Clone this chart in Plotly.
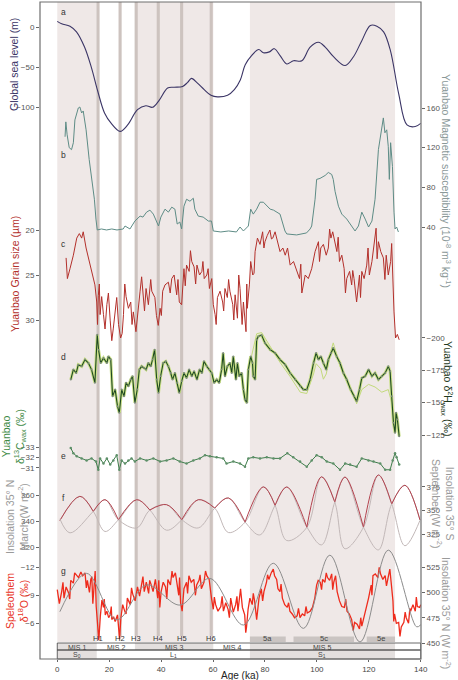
import plotly.graph_objects as go

# ---------------- data ----------------
# a) global sea level (m)
sl_age = [0, 1.7, 4.9, 7.4, 10.5, 13.1, 15.6, 18.2, 20.8, 24.2, 27.1, 30.9, 34.1, 36.7, 39.3,
          42.5, 45.0, 48.3, 50.2, 51.7, 54.0, 56.6, 59.2, 61.7, 65.6, 68.2, 70.5, 72.4, 75.0,
          77.6, 79.4, 81.7, 83.6, 85.9, 88.4, 91.0, 94.2, 97.4, 100.6, 103.2, 106.4, 110.9,
          114.1, 117.3, 120.6, 123.1, 125.7, 128.3, 131.5, 134.7, 137.9, 140.0]
sl_m = [7, 4, 1, -6, -25, -50, -80, -107, -120, -130, -122, -103, -98, -100, -91,
        -76, -75, -74, -69, -64, -70, -78, -85, -87, -85, -78, -66, -47, -35,
        -28, -32, -31, -27, -36, -46, -42, -42, -25, -19, -25, -37, -48,
        -37, -17, 2, 1, -6, -29, -83, -122, -124, -120]

# b) Yuanbao magnetic susceptibility (10^-8 m3 kg-1)
ms_age = [3.0, 3.3, 3.8, 4.6, 5.5, 6.2, 6.8, 8.1, 8.7, 9.4, 10.0, 11.1, 12.3, 13.2, 14.3,
          14.9, 15.4, 17.0, 19.0, 21.0, 23.0, 25.4, 26.1, 28.0, 29.9, 31.9, 33.0, 34.4, 35.7,
          37.0, 38.3, 39.0, 39.9, 41.5, 42.8, 44.1, 45.3, 46.2, 47.2, 47.9, 48.8, 49.8, 51.1,
          52.4, 53.0, 54.3, 56.2, 58.2, 59.4, 60.1, 63.0, 66.0, 69.0, 70.4, 71.7, 73.6, 74.5,
          75.5, 76.8, 78.1, 79.4, 80.7, 82.0, 83.3, 84.5, 85.8, 87.7, 88.4, 92.2, 96.0, 97.4,
          98.0, 99.3, 99.9, 101.2, 103.2, 104.4, 105.7, 106.3, 107.0, 108.3, 109.6, 111.5,
          113.4, 114.7, 116.0, 117.3, 118.6, 119.9, 121.2, 122.4, 123.7, 125.0, 125.6, 126.2,
          126.9, 127.5, 127.9, 128.4, 129.1, 129.7, 130.1, 130.7, 131.4]
ms_val = [131, 146, 133, 120, 118, 125, 148, 160, 161, 155, 157, 138, 108, 88, 68,
          48, 37, 38, 37, 38, 37, 38, 41, 38, 46, 51, 50, 55, 57,
          53, 46, 41, 50, 58, 55, 60, 58, 43, 45, 38, 61, 68, 66,
          69, 58, 51, 50, 46, 46, 36, 35, 36, 35, 40, 36, 41, 58,
          53, 58, 65, 65, 61, 58, 57, 55, 53, 36, 33, 32, 34, 38,
          41, 68, 88, 89, 92, 95, 93, 88, 76, 61, 53, 48,
          41, 36, 41, 55, 48, 40, 46, 68, 118, 141, 150, 135,
          138, 121, 88, 125, 101, 55, 38, 40, 35]

# c) Yuanbao grain size (um)
gs_age = [3.4, 3.9, 4.9, 6.2, 7.5, 8.5, 9.4, 10.0, 11.1, 12.0,
          13.2, 14.5, 15.2, 15.8, 16.5, 17.1, 17.8, 19.1, 20.4, 21.6,
          22.3, 23.6, 24.4, 25.5, 26.5, 27.4, 28.3, 29.3, 30.3, 31.2,
          31.9, 33.1, 34.2, 35.1, 36.4, 37.6, 38.9, 39.6, 40.6, 41.5,
          42.8, 44.1, 45.0, 46.0, 47.0, 47.9, 48.8, 49.8, 50.8, 51.8,
          52.7, 53.8, 54.8, 55.7, 56.6, 57.6, 58.6, 59.5, 60.1, 60.8,
          61.7, 62.7, 63.7, 64.6, 65.5, 66.5, 67.6, 68.5, 69.4, 70.4,
          71.7, 72.7, 73.2, 74.0, 74.5, 75.3, 76.2, 77.1, 78.1, 79.1,
          80.0, 80.9, 81.9, 83.0, 83.9, 84.8, 85.8, 86.9, 87.8, 88.7,
          89.7, 91.0, 92.3, 93.3, 94.2, 95.5, 96.7, 98.0, 99.3, 100.6,
          101.5, 102.5, 103.6, 104.4, 105.4, 106.1, 107.0, 107.7, 108.7, 109.6,
          110.5, 111.5, 112.6, 113.4, 114.3, 115.3, 116.4, 117.3, 118.2, 119.2,
          120.2, 121.2, 122.1, 122.8, 123.7, 124.6, 125.6, 126.7, 127.5, 128.4,
          129.2, 129.7, 130.3, 131.0, 131.7]
gs_um = [23.1, 25.4, 24.3, 22.8, 20.9, 20.4, 20.9, 20.2, 22.0, 23.1,
         24.6, 26.1, 28.0, 27.3, 29.4, 27.4, 29.4, 28.3, 30.1, 30.9,
         29.4, 30.5, 32.0, 29.4, 27.4, 28.7, 28.0, 29.1, 31.3, 28.3,
         26.8, 27.2, 26.5, 28.3, 26.8, 27.5, 30.6, 28.7, 26.8, 26.1,
         25.8, 25.4, 25.0, 27.2, 28.0, 28.3, 24.3, 23.9, 24.6, 23.5,
         24.1, 23.9, 25.0, 24.6, 25.4, 25.0, 26.5, 25.4, 28.3, 29.4,
         27.5, 26.8, 28.0, 26.5, 27.5, 26.8, 28.3, 27.2, 29.8, 26.5,
         28.0, 31.3, 28.7, 26.1, 23.5, 25.0, 22.4, 20.9, 21.6, 20.2,
         21.3, 20.6, 20.0, 20.9, 20.2, 21.3, 22.4, 22.0, 22.8, 22.0,
         23.9, 23.5, 24.6, 25.4, 27.0, 25.0, 25.4, 24.3, 22.4, 21.3,
         22.0, 21.6, 22.8, 22.0, 20.9, 20.2, 21.3, 22.4, 23.5, 22.8,
         24.3, 25.4, 24.6, 26.1, 25.4, 28.0, 25.0, 24.6, 25.4, 23.9,
         25.0, 23.5, 21.3, 19.8, 21.3, 22.4, 23.1, 22.8, 25.0, 23.5,
         25.7, 29.1, 32.0, 31.6, 32.2]
# extra short-lived spikes seen in the grain-size record
gs_spike_age = [15.5, 16.2, 18.4, 19.7, 21.0, 22.9, 25.0, 26.0, 28.8, 32.5,
                33.6, 36.0, 38.2, 40.1, 43.5, 46.5, 49.3, 51.3, 53.3, 56.1,
                58.1, 61.2, 64.1, 66.0, 68.0, 69.9, 71.2, 73.0, 75.8, 79.6,
                82.5, 93.8, 101.0, 104.9, 108.2, 111.0, 113.8, 116.8, 119.7, 123.2,
                126.2, 128.8]
gs_spike_um = [30.5, 26.0, 31.0, 27.0, 32.3, 27.5, 31.5, 26.0, 30.5, 25.2,
               29.0, 25.5, 29.5, 29.5, 27.0, 25.5, 26.2, 22.3, 26.0, 23.5,
               24.3, 30.5, 29.0, 25.5, 30.0, 25.0, 30.5, 26.0, 24.8, 22.0,
               21.0, 23.8, 23.5, 19.9, 20.8, 27.0, 24.5, 27.5, 22.0, 23.2,
               25.5, 21.5]

# d) Yuanbao dD wax (permil)
dh_age = [5.2, 6.2, 7.3, 8.1, 9.4, 10.7, 12.0, 13.2, 14.5, 15.4,
          15.9, 16.7, 17.8, 19.1, 19.7, 20.6, 21.3, 22.3, 23.2, 23.9,
          24.8, 25.7, 26.5, 27.4, 28.3, 29.0, 29.9, 30.8, 31.6, 32.5,
          33.4, 34.2, 35.1, 36.0, 36.7, 37.5, 38.3, 39.0, 39.8, 40.8,
          41.8, 42.8, 43.7, 44.4, 45.3, 46.2, 47.0, 47.9, 48.8, 49.8,
          50.8, 51.8, 52.7, 53.8, 54.8, 55.7, 56.5, 57.6, 58.6, 59.5,
          60.4, 61.4, 62.4, 63.3, 63.9, 64.6, 65.5, 66.5, 67.2, 67.8,
          68.8, 69.4, 70.1, 71.0, 71.7, 72.3, 73.0, 73.6, 74.5, 75.2,
          75.5, 76.2, 76.8, 77.4, 78.7, 80.0, 82.0, 83.9, 85.8, 87.8,
          89.7, 91.6, 93.6, 94.8, 96.1, 97.4, 98.7, 99.7, 100.6, 101.5,
          102.5, 103.6, 104.4, 105.4, 106.3, 107.6, 108.9, 110.2, 111.5, 113.0,
          114.3, 115.3, 116.4, 117.3, 118.6, 119.9, 121.2, 122.4, 123.7, 125.0,
          126.3, 127.5, 128.2, 128.8, 129.5, 130.1, 130.5, 131.0, 131.7]
dh_val = [-167.7, -175.4, -172.8, -179.2, -177.9, -183.1, -180.5, -175.4, -165.2, -202.3,
          -190.8, -180.5, -184.4, -180.5, -185.6, -183.1, -154.9, -160.0, -147.2, -142.1,
          -160.0, -154.9, -165.2, -162.6, -167.7, -170.3, -149.8, -160.0, -175.4, -177.9,
          -176.7, -175.4, -180.5, -177.9, -183.1, -190.8, -167.7, -157.5, -170.3, -180.5,
          -181.8, -177.9, -172.8, -167.7, -172.8, -165.2, -157.5, -166.4, -172.8, -169.0,
          -175.4, -170.3, -174.1, -167.7, -175.4, -172.8, -181.8, -177.9, -175.4, -172.8,
          -165.2, -167.7, -165.2, -175.4, -188.2, -170.3, -177.9, -180.5, -172.8, -185.6,
          -167.7, -180.5, -170.3, -172.8, -160.0, -152.3, -149.8, -175.4, -185.6, -180.5,
          -170.3, -167.7, -198.5, -201.0, -202.0, -195.9, -190.8, -188.2, -183.1, -179.2,
          -172.8, -167.7, -162.6, -160.0, -160.0, -167.7, -180.5, -188.2, -183.1, -185.6,
          -180.5, -175.4, -183.1, -188.2, -192.1, -185.6, -180.5, -172.8, -167.7, -160.0,
          -154.9, -151.0, -160.0, -169.0, -170.3, -175.4, -170.3, -172.8, -167.7, -170.3,
          -172.8, -177.9, -174.1, -154.9, -134.4, -126.7, -142.1, -137.0, -124.0]
# lighter companion dD curve (diverges mainly in MIS 5)
dh2_age = [74.5, 76.8, 78.7, 82.0, 85.8, 89.7, 93.6, 96.1, 98.7, 99.7,
           101.5, 102.5, 103.6, 105.4, 106.3, 108.9, 111.5, 114.3, 115.3, 117.3,
           119.9, 122.4, 125.0, 127.5, 128.8, 130.1]
dh2_val = [-183, -203, -204, -193, -181, -170, -158, -157, -172, -180,
           -176, -168, -172, -190, -196, -178, -166, -156, -149, -160,
           -164, -162, -158, -160, -150, -126]

# e) Yuanbao d13C wax (permil)
dc_age = [5.2, 6.2, 7.5, 9.4, 11.3, 13.2, 14.9, 15.8, 16.5, 17.8,
          19.1, 20.4, 21.6, 22.9, 23.9, 24.8, 26.1, 27.4, 28.6, 29.9,
          31.9, 34.4, 37.0, 39.6, 42.1, 44.7, 47.2, 49.8, 52.4, 54.9,
          56.9, 58.8, 61.4, 63.9, 65.2, 67.8, 70.4, 72.3, 73.6, 75.5,
          78.1, 80.7, 83.3, 85.8, 88.6, 90.9, 93.5, 96.1, 98.0, 99.9,
          101.9, 103.8, 106.3, 108.9, 110.9, 112.8, 115.3, 117.3, 119.9, 121.8,
          124.4, 126.3, 128.2, 129.2, 130.1, 130.7, 131.7]
dc_val = [-32.9, -32.4, -32.1, -31.9, -31.7, -31.9, -31.6, -30.8, -31.9, -31.4,
          -31.9, -31.3, -31.7, -32.2, -30.8, -31.7, -31.4, -31.7, -31.9, -31.6,
          -31.9, -31.7, -31.9, -31.6, -31.7, -31.9, -31.6, -31.4, -31.7, -31.9,
          -32.2, -32.1, -32.0, -31.9, -31.4, -31.6, -31.4, -31.1, -31.9, -32.0,
          -31.9, -32.0, -31.9, -31.9, -32.4, -32.0, -31.6, -31.1, -31.7, -32.2,
          -32.0, -31.6, -31.4, -30.8, -31.4, -31.3, -31.1, -31.9, -31.7, -31.6,
          -31.4, -30.8, -30.8, -31.7, -32.4, -32.0, -31.3]

# f) insolation 35N March / 35S September (W m-2)
mar_age = [1.0, 8.7, 13.9, 18.4, 23.5, 30.6, 35.7, 42.1, 47.9, 54.3, 60.7, 65.9, 72.3,
           79.4, 83.9, 88.4, 96.1, 101.8, 106.9, 110.8, 117.9, 123.7, 128.8, 133.9, 139.7]
mar_val = [340.5, 359.2, 347.5, 332.0, 340.9, 356.6, 348.5, 333.0, 340.9, 356.6, 350.0, 331.2, 339.1,
           366.5, 352.2, 325.0, 335.1, 374.3, 354.7, 318.7, 335.1, 375.7, 353.4, 321.0, 340.6]
sep_age = [1.0, 4.9, 13.9, 18.4, 23.5, 30.6, 35.7, 42.1, 47.9, 54.3, 60.7, 65.9, 72.3,
           78.0, 83.9, 88.4, 96.1, 101.8, 106.9, 110.8, 117.9, 123.7, 128.8, 133.9, 139.7]
sep_val = [341.0, 326.2, 349.0, 361.3, 340.2, 331.4, 350.4, 356.0, 340.2, 331.4, 352.5, 363.1, 337.8,
           324.0, 355.4, 374.7, 332.5, 313.5, 358.9, 385.2, 332.5, 308.2, 356.7, 376.5, 339.9]

# g) speleothem d18O (permil) and 35N insolation (W m-2)
sp_age = [0.0, 0.8, 1.7, 2.6, 3.4, 4.3, 5.2, 6.2, 7.3, 8.2,
          9.1, 9.8, 10.7, 11.6, 12.4, 12.9, 13.7, 14.2, 15.0, 15.5,
          16.0, 16.6, 17.2, 17.8, 18.5, 19.1, 19.8, 20.4, 21.0, 21.7,
          22.3, 23.2, 24.0, 24.5, 25.2, 26.1, 27.0, 28.1, 29.1, 30.0,
          30.9, 31.7, 32.6, 33.5, 34.3, 35.2, 36.1, 36.9, 37.8, 38.7,
          39.5, 40.0, 40.8, 41.7, 42.6, 43.6, 44.6, 45.5, 46.2, 46.8,
          47.5, 48.1, 48.8, 49.8, 50.7, 51.6, 52.6, 53.7, 54.6, 55.5,
          56.5, 57.6, 58.5, 59.4, 60.1, 61.0, 61.9, 63.0, 64.0, 64.9,
          65.8, 66.8, 67.8, 68.7, 69.6, 70.6, 71.3, 72.2, 72.9, 73.5,
          74.2, 75.1, 76.0, 76.8, 77.7, 78.6, 79.6, 80.6, 81.5, 82.4,
          83.2, 83.7, 84.5, 85.0, 85.8, 86.7, 87.6, 88.6, 89.6, 90.5,
          91.4, 92.4, 93.5, 94.4, 95.3, 96.3, 97.4, 98.3, 99.2, 99.9,
          100.5, 101.3, 102.2, 103.1, 104.1, 104.9, 105.7, 106.5, 107.2, 107.8,
          108.7, 109.6, 110.6, 111.6, 112.5, 113.4, 114.5, 115.5, 116.4, 117.3,
          118.1, 119.0, 119.9, 120.9, 121.6, 122.5, 123.5, 124.5, 125.4, 126.3,
          127.3, 128.1, 128.6, 129.3, 129.9, 130.6, 131.5, 132.5, 133.5, 134.4,
          135.3, 136.1, 137.0, 137.9, 138.7, 139.6, 140.0]
sp_val = [-9.6, -8.1, -9.4, -8.7, -9.9, -9.3, -10.6, -10.3, -11.2, -10.9,
          -11.5, -11.1, -11.4, -10.6, -9.3, -10.7, -8.1, -9.9, -7.8, -5.6,
          -4.2, -6.8, -8.5, -7.7, -6.9, -7.3, -6.6, -6.9, -6.4, -6.7,
          -6.2, -6.9, -4.3, -6.6, -8.0, -7.2, -8.7, -8.0, -9.1, -8.4,
          -9.9, -8.9, -10.1, -9.4, -10.4, -9.2, -10.2, -9.4, -10.7, -8.7,
          -7.7, -9.4, -10.4, -9.9, -10.7, -10.1, -10.9, -11.4, -10.1, -9.0,
          -8.2, -7.3, -9.7, -10.4, -11.1, -10.4, -10.7, -10.1, -10.6, -9.7,
          -10.4, -11.1, -10.7, -8.7, -7.5, -8.0, -7.3, -7.8, -7.3, -8.2,
          -7.5, -8.7, -7.2, -8.0, -7.3, -9.7, -7.7, -6.9, -5.6, -7.5,
          -8.7, -8.0, -8.4, -6.4, -8.7, -9.7, -9.4, -10.4, -10.7, -11.4,
          -11.8, -11.1, -10.7, -9.7, -9.4, -8.7, -8.0, -7.7, -7.3, -7.0,
          -6.6, -6.8, -6.6, -7.0, -6.8, -7.1, -7.3, -7.7, -8.7, -10.1,
          -10.6, -10.4, -10.7, -10.4, -10.9, -10.6, -11.3, -10.4, -11.1, -9.4,
          -8.4, -7.8, -7.7, -7.3, -7.0, -6.4, -6.1, -5.9, -5.4, -5.7,
          -6.6, -7.7, -8.7, -10.1, -11.1, -11.3, -10.9, -11.3, -10.7, -11.1,
          -10.7, -11.8, -10.4, -8.4, -7.0, -6.0, -6.1, -5.6, -6.1, -6.6,
          -6.0, -7.3, -8.0, -7.3, -7.8, -7.7, -8.0]
# extra short-lived spikes seen in the speleothem record
sp_spike_age = [2.2, 4.8, 6.7, 11.2, 13.3, 14.6, 18.1, 20.8, 26.5, 28.6,
                33.0, 35.6, 39.1, 42.2, 44.2, 47.1, 50.2, 53.2, 55.0, 57.1,
                60.5, 63.5, 66.3, 69.2, 72.6, 75.5, 79.1, 81.0, 86.2, 89.1,
                92.9, 95.8, 101.8, 103.6, 106.1, 111.1, 114.0, 116.9, 121.2, 124.0,
                126.8, 129.6, 132.0, 134.0, 135.8, 138.3]
sp_spike_val = [-10.4, -8.6, -11.4, -9.8, -11.0, -11.6, -8.6, -7.8, -7.0, -9.8,
                -11.0, -10.6, -10.6, -8.6, -11.6, -10.9, -9.2, -9.0, -11.2, -11.6,
                -8.8, -8.9, -6.6, -8.9, -5.0, -9.2, -8.4, -11.2, -10.2, -8.2,
                -7.6, -7.8, -9.6, -11.4, -9.6, -8.6, -5.2, -6.6, -9.0, -12.0,
                -10.0, -6.2, -4.6, -7.2, -7.6, -8.8]
insn_age = [1.0, 11.3, 22.9, 34.4, 47.3, 58.8, 71.7, 83.2, 94.8, 105.0, 116.6, 127.5, 138.4, 140.0]
insn_val = [481, 519, 473, 507.5, 487.6, 514, 467.8, 529, 464.5, 537, 451, 542, 466, 468]

# shading, events and stage boxes
warm_bands = [(0, 15.2), (29.9, 60.1), (74.2, 130.1)]
heinrich_age = [15.7, 24.2, 30.4, 38.9, 47.9, 59.3]
heinrich_lab = ['H1', 'H2', 'H3', 'H4', 'H5', 'H6']
sub_lab = ['5a', '5c', '5e']
sub_start = [74.2, 91.0, 119.2]
sub_end = [88.0, 114.3, 130.1]
mis_lab = ['MIS 1', 'MIS 2', 'MIS 3', 'MIS 4', 'MIS 5']
mis_bounds = [0, 15.2, 29.9, 60.1, 74.2, 130.1]
soil_lab = ['S<sub>0</sub>', 'L<sub>1</sub>', 'S<sub>1</sub>']
soil_bounds = [0, 15.2, 74.2, 130.1]

# merge the spike readings into the main records (kept in age order)
gs_all = sorted(zip(gs_age + gs_spike_age, gs_um + gs_spike_um))
sp_all = sorted(zip(sp_age + sp_spike_age, sp_val + sp_spike_val))

# ---------------- layout helpers (pixel geometry) ----------------
W, H = 458, 680
L, R, T, B = 40, 37, 2, 21
PT, PB = T, H - B   # plot top / bottom in px
FONT = 'Arial, Liberation Sans, sans-serif'


def fx(px):
    return (px - L) / (W - L - R)


def fy(py):
    return (PB - py) / (PB - PT)


def axis_range(v1, p1, v2, p2):
    s = (p2 - p1) / (v2 - v1)
    return [v1 + (PB - p1) / s, v1 + (PT - p1) / s]


def yax(cal, side, ticks, overlay=True):
    d = dict(range=axis_range(*cal), side=side, tickvals=ticks, anchor='x',
             showgrid=False, zeroline=False, showline=False, ticks='outside',
             ticklen=3, tickwidth=0.8, tickcolor='#666', automargin=False,
             tickfont=dict(size=8, color='#555', family=FONT), domain=[0, 1])
    if overlay:
        d['overlaying'] = 'y'
    return d


fig = go.Figure()

fig.add_trace(go.Scatter(x=sl_age, y=sl_m, yaxis='y', mode='lines',
                         line=dict(color='#3b3566', width=1.1, shape='spline')))
fig.add_trace(go.Scatter(x=ms_age, y=ms_val, yaxis='y2', mode='lines',
                         line=dict(color='#5e8c86', width=1)))
fig.add_trace(go.Scatter(x=[a for a, _ in gs_all], y=[v for _, v in gs_all], yaxis='y3',
                         mode='lines', line=dict(color='#b3302b', width=1)))
fig.add_trace(go.Scatter(x=dh_age, y=dh_val, yaxis='y4', mode='lines',
                         line=dict(color='#c9df86', width=3)))
fig.add_trace(go.Scatter(x=dh2_age, y=dh2_val, yaxis='y4', mode='lines',
                         line=dict(color='#c3da7c', width=1)))
fig.add_trace(go.Scatter(x=dh_age, y=dh_val, yaxis='y4', mode='lines+markers',
                         line=dict(color='#1f4a22', width=1.1),
                         marker=dict(size=2, color='#7d8c7d')))
fig.add_trace(go.Scatter(x=dc_age, y=dc_val, yaxis='y5', mode='lines+markers',
                         line=dict(color='#3e7d4b', width=1),
                         marker=dict(size=2.5, color='#5d8f68')))
fig.add_trace(go.Scatter(x=mar_age, y=mar_val, yaxis='y6', mode='lines',
                         line=dict(color='#c2b8b8', width=1, shape='spline')))
fig.add_trace(go.Scatter(x=sep_age, y=sep_val, yaxis='y7', mode='lines',
                         line=dict(color='#c2b8b8', width=1, shape='spline')))
# red highlight on the upper arcs
fig.add_trace(go.Scatter(x=mar_age, y=[v if v >= 334 else None for v in mar_val], yaxis='y6',
                         mode='lines', connectgaps=False,
                         line=dict(color='#b3424e', width=1, shape='spline')))
fig.add_trace(go.Scatter(x=sep_age, y=[v if v >= 332 else None for v in sep_val], yaxis='y7',
                         mode='lines', connectgaps=False,
                         line=dict(color='#b3424e', width=1, shape='spline')))
fig.add_trace(go.Scatter(x=insn_age, y=insn_val, yaxis='y9', mode='lines',
                         line=dict(color='#8c8c8c', width=1, shape='spline')))
fig.add_trace(go.Scatter(x=[a for a, _ in sp_all], y=[v for _, v in sp_all], yaxis='y8',
                         mode='lines', line=dict(color='#ee2b1c', width=1.3)))

shapes = []
for a0, a1 in warm_bands:
    shapes.append(dict(type='rect', xref='x', yref='paper', x0=a0, x1=a1,
                       y0=fy(642), y1=1, fillcolor='#efe8e7', line_width=0, layer='below'))
for h in heinrich_age:
    shapes.append(dict(type='rect', xref='x', yref='paper', x0=h - 0.6, x1=h + 0.6,
                       y0=fy(636), y1=1, fillcolor='#cdc3bf', line_width=0, layer='below'))
for a0, a1 in zip(sub_start, sub_end):
    shapes.append(dict(type='rect', xref='x', yref='paper', x0=a0, x1=a1,
                       y0=fy(642), y1=fy(636.5), fillcolor='#cac4c2', line_width=0, layer='below'))
for i in range(0, len(mis_bounds) - 1, 2):
    shapes.append(dict(type='rect', xref='x', yref='paper', x0=mis_bounds[i], x1=mis_bounds[i + 1],
                       y0=fy(650), y1=fy(643), fillcolor='#e3dfde', line_width=0, layer='below'))
for i in range(0, len(soil_bounds) - 1, 2):
    shapes.append(dict(type='rect', xref='x', yref='paper', x0=soil_bounds[i], x1=soil_bounds[i + 1],
                       y0=fy(659), y1=fy(650), fillcolor='#e3dfde', line_width=0, layer='below'))
for top, bot in [(643, 650), (650, 659)]:
    shapes.append(dict(type='rect', xref='x', yref='paper', x0=0, x1=140,
                       y0=fy(bot), y1=fy(top), line=dict(color='#444', width=0.8), layer='below'))
shapes.append(dict(type='rect', xref='paper', yref='paper', x0=0, x1=1, y0=0, y1=1,
                   line=dict(color='#6e6e6e', width=1.2), layer='above'))

ann = []


def label(text, x, y, size=8.5, color='#333', angle=0, xref='x'):
    ann.append(dict(text=text, x=x, y=fy(y), xref=xref, yref='paper', showarrow=False,
                    xanchor='center', yanchor='middle', textangle=angle,
                    font=dict(size=size, color=color, family=FONT)))


for h, t in zip(heinrich_age, heinrich_lab):
    label(t, h, 638.8, size=7.5)
for a0, a1, t in zip(sub_start, sub_end, sub_lab):
    label(t, (a0 + a1) / 2, 638.8, size=7.5, color='#444')
for i, t in enumerate(mis_lab):
    label(t, (mis_bounds[i] + mis_bounds[i + 1]) / 2, 647, size=7, color='#444')
for i, t in enumerate(soil_lab):
    label(t, (soil_bounds[i] + soil_bounds[i + 1]) / 2, 655, size=7, color='#444')

for t, y in zip('abcdefg', [12, 155, 244, 357, 456, 498, 571]):
    label(t, fx(63), y, size=8.5, xref='paper')

# axis titles
label('Global sea level (m)', fx(14), 65, size=10.5, color='#3b3566', angle=-90, xref='paper')
label('Yuanbao Grain size (µm)', fx(15), 274, size=10.5, color='#b3302b', angle=-90, xref='paper')
label('Yuanbao<br>δ<sup>13</sup>C<sub>wax</sub> (‰)', fx(14), 437, size=10.5, color='#3e8a45',
      angle=-90, xref='paper')
label('Insolation 35° N<br>March (W m<sup>-2</sup>)', fx(17), 517, size=10.5, color='#9a9a9a',
      angle=-90, xref='paper')
label('Speleothem<br>δ<sup>18</sup>O (‰)', fx(17), 601, size=10.5, color='#e83224',
      angle=-90, xref='paper')
label('Yuanbao Magnetic susceptibility (10<sup>-8</sup> m<sup>3</sup> kg<sup>-1</sup>)', fx(447), 181,
      size=10.5, color='#8a9898', angle=90, xref='paper')
label('Yuanbao δ<sup>2</sup>H<sub>wax</sub> (‰)', fx(447), 388, size=10.5, color='#1f3a22',
      angle=90, xref='paper')
label('Insolation 35° S<br>September (W m<sup>-2</sup>)', fx(443), 503, size=10.5, color='#9a9a9a',
      angle=90, xref='paper')
label('Insolation 35° N (W m<sup>-2</sup>)', fx(447), 613, size=10.5, color='#9a9a9a',
      angle=90, xref='paper')
label('Age (ka)', fx(240), 675, size=10, color='#222', xref='paper')

fig.update_layout(
    width=W, height=H,
    margin=dict(l=L, r=R, t=T, b=B, autoexpand=False),
    plot_bgcolor='white', paper_bgcolor='white',
    showlegend=False,
    font=dict(family=FONT, size=9, color='#444'),
    xaxis=dict(range=[-6.65, 140.1], tickvals=list(range(0, 141, 20)), showgrid=False,
               zeroline=False, showline=False, ticks='outside', ticklen=2, tickcolor='#666',
               automargin=False, tickfont=dict(size=8, color='#444', family=FONT)),
    yaxis=yax((0, 27, -100, 107.3), 'left', [0, -50, -100], overlay=False),
    yaxis2=yax((160, 108, 40, 227), 'right', [40, 80, 120, 160]),
    yaxis3=yax((20, 230, 30, 320), 'left', [20, 25, 30]),
    yaxis4=yax((-200, 337.7, -125, 435), 'right', [-200, -175, -150, -125]),
    yaxis5=yax((-33, 447, -31, 467.7), 'left', [-33, -32, -31]),
    yaxis6=yax((360, 495.3, 320, 547), 'left', [320, 340, 360]),
    yaxis7=yax((375, 486.7, 325, 534), 'right', [325, 350, 375]),
    yaxis8=yax((-12, 567.3, -6, 623.3), 'left', [-12, -9, -6]),
    yaxis9=yax((525, 567.3, 450, 643), 'right', [450, 475, 500, 525]),
    shapes=shapes,
    annotations=ann,
)

# page body has a default 8px margin; drop it so the figure fills the window
fig.write_html('out.html', config={'responsive': False, 'displayModeBar': False},
               post_script="document.body.style.margin='0';document.body.style.overflow='hidden';")
